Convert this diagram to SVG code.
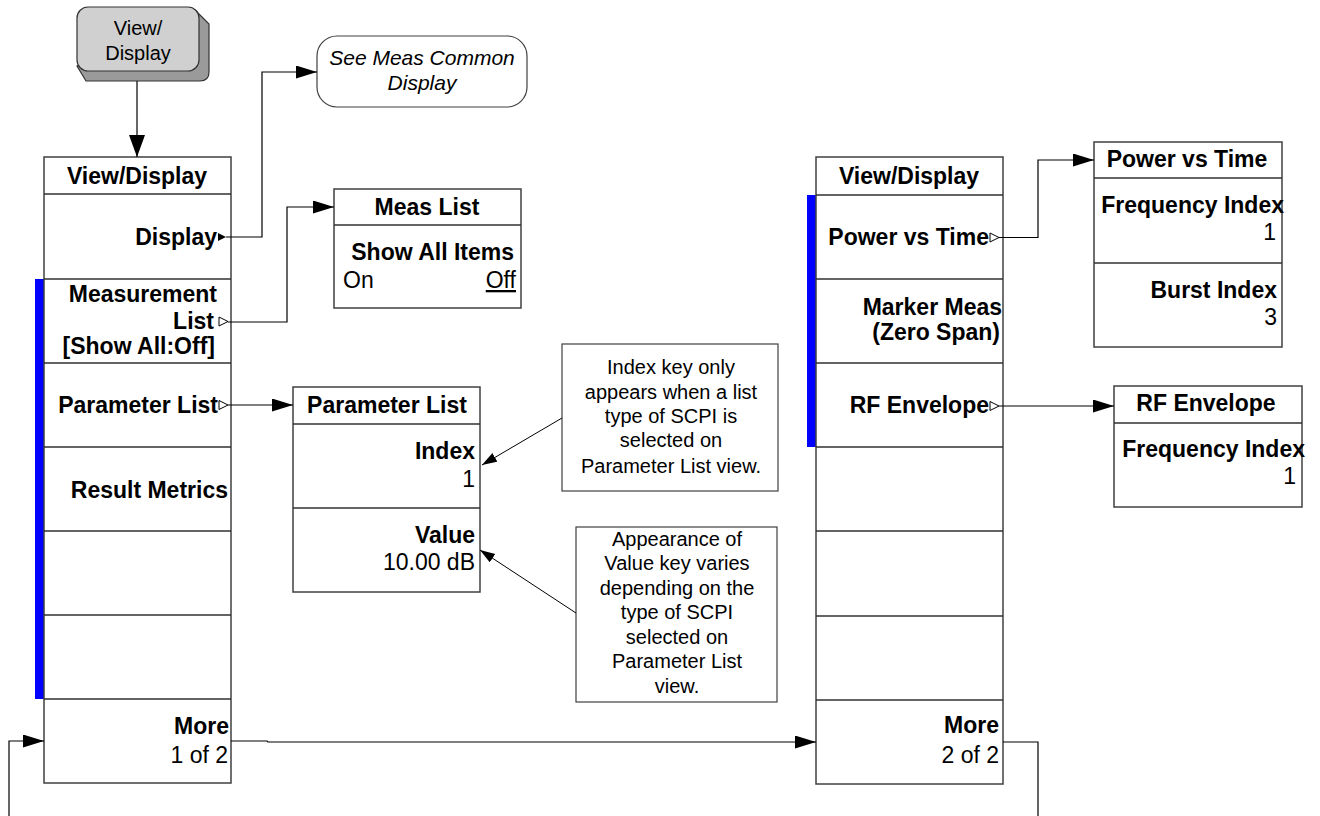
<svg xmlns="http://www.w3.org/2000/svg" width="1320" height="816" viewBox="0 0 1320 816">
  <defs>
    <style>
      .box { fill: #ffffff; stroke: #404040; stroke-width: 1.5; }
      .sep { stroke: #303030; stroke-width: 1.5; }
      .bar { fill: #0000ff; }
      .b { font-family: "Liberation Sans", Arial, sans-serif; font-size: 23px; font-weight: bold; fill: #000; }
      .n { font-family: "Liberation Sans", Arial, sans-serif; font-size: 23px; fill: #000; }
      .note { font-family: "Liberation Sans", Arial, sans-serif; font-size: 20px; fill: #000; text-anchor: middle; }
      .end { text-anchor: end; }
      .mid { text-anchor: middle; }
      .conn { fill: none; stroke: #000; stroke-width: 1.2; }
      .thin { fill: none; stroke: #000; stroke-width: 1; }
      .tri { fill: #fff; stroke: #000; stroke-width: 1; }
    </style>
    <marker id="arrow" markerUnits="userSpaceOnUse" markerWidth="22" markerHeight="13" refX="21" refY="6.5" orient="auto">
      <path d="M0,0 L21,6.5 L0,13 z" fill="#000"/>
    </marker>
    <marker id="arrowBig" markerUnits="userSpaceOnUse" markerWidth="23" markerHeight="17" refX="22" refY="8" orient="auto">
      <path d="M0,0 L22,8 L0,16 z" fill="#000"/>
    </marker>
    <marker id="arrowSmall" markerUnits="userSpaceOnUse" markerWidth="16" markerHeight="11" refX="15" refY="5" orient="auto">
      <path d="M0,0 L15,5 L0,10 z" fill="#000"/>
    </marker>
  </defs>

  <!-- front-panel hard key -->
  <g id="key-view-display">
    <path d="M195,10 L209,24 L209,72 Q209,81 200,81 L86,81 L77,66 Z" fill="#9a9a9a" stroke="#333" stroke-width="1.2"/>
    <rect x="77" y="7" width="122" height="64" rx="11" fill="#d0d0d0" stroke="#333" stroke-width="1.2"/>
    <text class="n mid" x="138" y="35" style="font-size:20px">View/</text>
    <text class="n mid" x="138" y="60" style="font-size:20px">Display</text>
  </g>

  <!-- reference to common display menu -->
  <g id="see-meas-common">
    <rect x="317" y="36" width="210" height="71" rx="20" fill="#fff" stroke="#404040" stroke-width="1.2"/>
    <text class="n mid" x="422" y="65" style="font-size:21px;font-style:italic">See Meas Common</text>
    <text class="n mid" x="422" y="90" style="font-size:21px;font-style:italic">Display</text>
  </g>

  <!-- View/Display menu, page 1 -->
  <g id="menu-view-display-1">
    <rect class="bar" x="35" y="279" width="9" height="420"/>
    <rect class="box" x="44" y="157" width="187" height="626"/>
    <line class="sep" x1="44" y1="194" x2="231" y2="194"/>
    <line class="sep" x1="44" y1="279" x2="231" y2="279"/>
    <line class="sep" x1="44" y1="363" x2="231" y2="363"/>
    <line class="sep" x1="44" y1="447" x2="231" y2="447"/>
    <line class="sep" x1="44" y1="531" x2="231" y2="531"/>
    <line class="sep" x1="44" y1="615" x2="231" y2="615"/>
    <line class="sep" x1="44" y1="699" x2="231" y2="699"/>
    <text class="b mid" x="137" y="184">View/Display</text>
    <text class="b end" x="217" y="245">Display</text>
    <path d="M218,233 L226,237 L218,241 Z" fill="#000"/>
    <text class="b end" x="217" y="302">Measurement</text>
    <text class="b end" x="214" y="329">List</text>
    <path class="tri" d="M219,317 L228,321.5 L219,326 Z"/>
    <text class="b end" x="215" y="354">[Show All:Off]</text>
    <text class="b end" x="218" y="413">Parameter List</text>
    <path class="tri" d="M219,400.5 L228,405 L219,409.5 Z"/>
    <text class="b end" x="228" y="498">Result Metrics</text>
    <text class="b end" x="229" y="734">More</text>
    <text class="n end" x="228" y="763">1 of 2</text>
  </g>

  <!-- Meas List submenu -->
  <g id="menu-meas-list">
    <rect class="box" x="334" y="189" width="187" height="119"/>
    <line class="sep" x1="334" y1="225" x2="521" y2="225"/>
    <text class="b mid" x="427" y="215">Meas List</text>
    <text class="b end" x="514" y="260">Show All Items</text>
    <text class="n" x="343" y="288">On</text>
    <text class="n end" x="516" y="288" text-decoration="underline">Off</text>
  </g>

  <!-- Parameter List submenu -->
  <g id="menu-parameter-list">
    <rect class="box" x="293" y="387" width="187" height="205"/>
    <line class="sep" x1="293" y1="424" x2="480" y2="424"/>
    <line class="sep" x1="293" y1="508" x2="480" y2="508"/>
    <text class="b mid" x="387" y="413">Parameter List</text>
    <text class="b end" x="475" y="459">Index</text>
    <text class="n end" x="475" y="487">1</text>
    <text class="b end" x="475" y="543">Value</text>
    <text class="n end" x="475" y="570">10.00 dB</text>
  </g>

  <!-- explanatory notes -->
  <g id="note-index">
    <rect class="box" x="562" y="344" width="216" height="147" style="stroke-width:1.2"/>
    <text class="note" x="671" y="374">Index key only</text>
    <text class="note" x="671" y="399">appears when a list</text>
    <text class="note" x="671" y="423">type of SCPI is</text>
    <text class="note" x="671" y="447">selected on</text>
    <text class="note" x="671" y="473">Parameter List view.</text>
  </g>
  <g id="note-value">
    <rect class="box" x="576" y="527" width="201" height="175" style="stroke-width:1.2"/>
    <text class="note" x="677" y="546">Appearance of</text>
    <text class="note" x="677" y="570">Value key varies</text>
    <text class="note" x="677" y="595">depending on the</text>
    <text class="note" x="677" y="619">type of SCPI</text>
    <text class="note" x="677" y="644">selected on</text>
    <text class="note" x="677" y="668">Parameter List</text>
    <text class="note" x="677" y="693">view.</text>
  </g>

  <!-- View/Display menu, page 2 -->
  <g id="menu-view-display-2">
    <rect class="bar" x="807" y="195" width="9" height="252"/>
    <rect class="box" x="816" y="157" width="187" height="627"/>
    <line class="sep" x1="816" y1="195" x2="1003" y2="195"/>
    <line class="sep" x1="816" y1="279" x2="1003" y2="279"/>
    <line class="sep" x1="816" y1="363" x2="1003" y2="363"/>
    <line class="sep" x1="816" y1="447" x2="1003" y2="447"/>
    <line class="sep" x1="816" y1="531" x2="1003" y2="531"/>
    <line class="sep" x1="816" y1="616" x2="1003" y2="616"/>
    <line class="sep" x1="816" y1="700" x2="1003" y2="700"/>
    <text class="b mid" x="909" y="184">View/Display</text>
    <text class="b end" x="989" y="245">Power vs Time</text>
    <path class="tri" d="M990,233 L999,237.5 L990,242 Z"/>
    <text class="b end" x="1002" y="315">Marker Meas</text>
    <text class="b end" x="1000" y="340">(Zero Span)</text>
    <text class="b end" x="989" y="413">RF Envelope</text>
    <path class="tri" d="M990,401.5 L999,406 L990,410.5 Z"/>
    <text class="b end" x="999" y="733">More</text>
    <text class="n end" x="999" y="763">2 of 2</text>
  </g>

  <!-- Power vs Time submenu -->
  <g id="menu-power-vs-time">
    <rect class="box" x="1094" y="142" width="188" height="205"/>
    <line class="sep" x1="1094" y1="178" x2="1282" y2="178"/>
    <line class="sep" x1="1094" y1="263" x2="1282" y2="263"/>
    <text class="b mid" x="1187" y="167">Power vs Time</text>
    <text class="b end" x="1284" y="213">Frequency Index</text>
    <text class="n end" x="1276" y="240">1</text>
    <text class="b end" x="1277" y="298">Burst Index</text>
    <text class="n end" x="1277" y="325">3</text>
  </g>

  <!-- RF Envelope submenu -->
  <g id="menu-rf-envelope">
    <rect class="box" x="1114" y="386" width="188" height="121"/>
    <line class="sep" x1="1114" y1="423" x2="1302" y2="423"/>
    <text class="b mid" x="1206" y="411">RF Envelope</text>
    <text class="b end" x="1305" y="457">Frequency Index</text>
    <text class="n end" x="1296" y="484">1</text>
  </g>

  <!-- connectors -->
  <g id="connectors">
    <path class="conn" d="M137,81 V157" marker-end="url(#arrowBig)"/>
    <path class="conn" d="M226,237 H262 V72 H317" marker-end="url(#arrow)"/>
    <path class="conn" d="M228,322 H287 V207 H334" marker-end="url(#arrow)"/>
    <path class="conn" d="M228,405 H293" marker-end="url(#arrow)"/>
    <path class="conn" d="M999,237.5 H1038 V160 H1094" marker-end="url(#arrow)"/>
    <path class="conn" d="M999,406 H1114" marker-end="url(#arrow)"/>
    <path class="conn" d="M231,741 H267 L268,742 H816" marker-end="url(#arrow)"/>
    <path class="conn" d="M1003,742 H1038 V816"/>
    <path class="conn" d="M9,816 V741 H44" marker-end="url(#arrow)"/>
    <path class="thin" d="M562,418 L482,465" marker-end="url(#arrowSmall)"/>
    <path class="thin" d="M576,613 L480,550" marker-end="url(#arrowSmall)"/>
  </g>
</svg>
